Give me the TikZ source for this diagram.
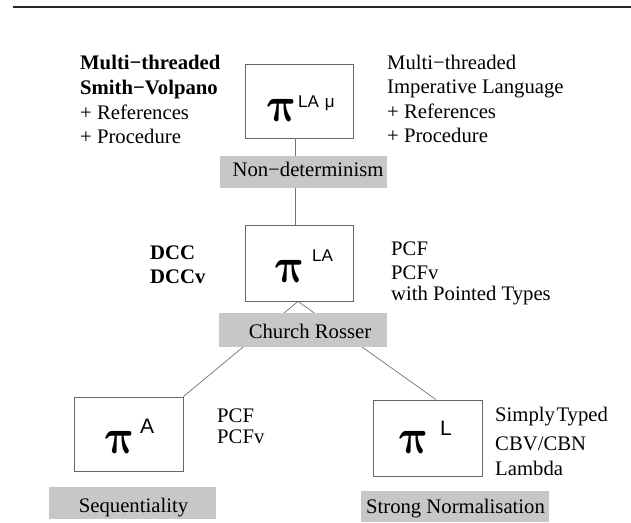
\documentclass[tikz,border=0pt]{standalone}
\usepackage{graphicx}
\usepackage{fontspec}
\setmainfont{Liberation Serif}
\newfontfamily\sansfam{Liberation Sans}
\newcommand{\heavypi}{\scalebox{2.05}[2.4]{\boldmath$\pi$}}
\tikzset{
  box/.style={draw=black!60, line width=0.8pt, inner sep=0pt},
  lab/.style={fill=black!22, inner sep=0pt},
  conn/.style={draw=black!55, line width=0.7pt},
  txt/.style={inner sep=0pt, anchor=base west, font=\fontsize{20.7}{24}\selectfont},
  btxt/.style={txt, font=\fontsize{20.7}{24}\selectfont\bfseries},
  pisym/.style={inner sep=0pt, anchor=base west, xslant=-0.2, transform shape, font=\fontsize{20.7}{24}\selectfont},
  supx/.style={inner sep=0pt, anchor=base west, font=\sansfam\fontsize{17}{17}\selectfont},
  supbig/.style={supx, font=\sansfam\fontsize{21}{21}\selectfont},
}
\begin{document}
\begin{tikzpicture}[x=1pt,y=-1pt]
\useasboundingbox (0,0) rectangle (631,522);
\coordinate (ruleL) at (13,7);
\coordinate (ruleR) at (631,7);
\draw[line width=2.5pt, black!85] (ruleL) -- (ruleR);

% boxes
\node[box, minimum width=108pt, minimum height=74pt] (top) at (299,101) {};
\node[box, minimum width=108pt, minimum height=76pt] (mid) at (299,263) {};
\node[box, minimum width=109pt, minimum height=74pt] (left) at (128.5,434) {};
\node[box, minimum width=109pt, minimum height=76pt] (right) at (427.5,438) {};

% connectors
\draw[conn] ([xshift=-4pt]top.south) -- ([xshift=-4pt]mid.north);
\draw[conn] ([xshift=-1pt]mid.south) -- (left.north east);
\draw[conn] ([xshift=-1pt]mid.south) -- ([xshift=8.5pt]right.north);

% gray labels
\node[lab, minimum width=167pt, minimum height=32pt] (nd) at (303.5,172) {};
\node[txt, anchor=base] (ndt) at (308,176.7) {Non−determinism};
\node[lab, minimum width=168pt, minimum height=34pt] (cr) at (303,330) {};
\node[txt, anchor=base] (crt) at (310,338) {Church Rosser};
\node[lab, minimum width=167pt, minimum height=32pt] (sq) at (132.5,503) {};
\node[txt, anchor=base] (sqt) at (133.5,512) {Sequentiality};
\node[lab, minimum width=188pt, minimum height=31pt] (sn) at (455,506.5) {};
\node[txt, anchor=base] (snt) at (455.5,513) {Strong Normalisation};

% pi symbols
\node[pisym] (p1) at (269,121) {\heavypi};
\node[supx] (s1) at (298,107) {LA\hspace{6pt}μ};
\node[pisym] (p2) at (277,282) {\heavypi};
\node[supx] (s2) at (312,261) {LA};
\node[pisym] (p3) at (107,453) {\heavypi};
\node[supbig] (s3) at (140,433) {A};
\node[pisym] (p4) at (401,453) {\heavypi};
\node[supbig] (s4) at (440,435) {L};

% top left text
\node[btxt] (a1) at (80,69.5) {Multi−threaded};
\node[btxt] (a2) at (80,94) {Smith−Volpano};
\node[txt] (a3) at (80,119) {+ References};
\node[txt] (a4) at (80,143) {+ Procedure};
% top right text
\node[txt] (b1) at (387,69) {Multi−threaded};
\node[txt] (b2) at (387,93.5) {Imperative Language};
\node[txt] (b3) at (387,118) {+ References};
\node[txt] (b4) at (387,142) {+ Procedure};
% middle
\node[btxt] (c1) at (150,259) {DCC};
\node[btxt] (c2) at (150,283) {DCCv};
\node[txt] (d1) at (391,255) {PCF};
\node[txt] (d2) at (391,279) {PCFv};
\node[txt] (d3) at (391,300) {with Pointed Types};
% bottom
\node[txt] (e1) at (217,422) {PCF};
\node[txt] (e2) at (217,443) {PCFv};
\node[txt] (f1) at (495,421) {Simply\kern1.5pt Typed};
\node[txt] (f2) at (495,450) {CBV/CBN};
\node[txt] (f3) at (495,475) {Lambda};
\end{tikzpicture}
\end{document}
